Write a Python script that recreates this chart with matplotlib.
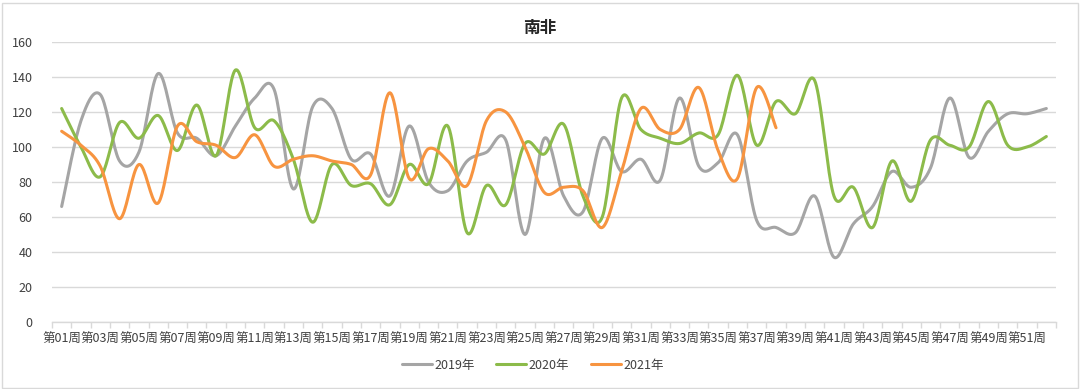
import numpy as np
import matplotlib
matplotlib.use("Agg")
import matplotlib.pyplot as plt
from matplotlib.patches import Rectangle

plt.rcParams['font.family'] = ['Noto Sans CJK SC', 'DejaVu Sans']

weeks = [f"第{i:02d}周" for i in range(1, 53)]

s2019 = [66, 115, 130, 92, 97, 142, 108, 105, 95, 112, 128, 133, 76, 123, 122, 93, 96, 72,
         112, 80, 75, 92, 97, 104, 50, 105, 72, 63, 105, 86, 93, 81, 128, 89, 91, 107, 58,
         54, 51, 72, 37, 56, 66, 86, 77, 88, 128, 94, 109, 119, 119, 122]
s2020 = [122, 100, 83, 114, 105, 118, 98, 124, 95, 144, 111, 115, 93, 57, 90, 78, 79, 67,
         90, 79, 112, 51, 78, 67, 102, 96, 113, 72, 60, 128, 110, 105, 102, 108, 107, 141,
         101, 126, 119, 138, 72, 77, 54, 92, 69, 104, 101, 100, 126, 101, 100, 106]
s2021 = [109, 101, 89, 59, 90, 68, 112, 103, 101, 94, 107, 89, 93, 95, 92, 90, 84, 131,
         82, 99, 92, 78, 115, 120, 100, 74, 77, 75, 54, 86, 122, 110, 110, 134, 98, 82, 134, 111]

series = [("2019年", s2019, "#A5A5A5"), ("2020年", s2020, "#8CBB4A"), ("2021年", s2021, "#F79440")]


def smooth(xs, ys, n=20):
    xs = np.asarray(xs, float)
    ys = np.asarray(ys, float)
    P = np.column_stack([xs, ys])
    out = []
    m = len(P)
    for i in range(m - 1):
        p0 = P[i - 1] if i > 0 else P[i]
        p1 = P[i]
        p2 = P[i + 1]
        p3 = P[i + 2] if i + 2 < m else P[i + 1]
        b1 = p1 + (p2 - p0) / 6.0
        b2 = p2 - (p3 - p1) / 6.0
        t = np.linspace(0, 1, n, endpoint=(i == m - 2))[:, None]
        seg = ((1 - t) ** 3) * p1 + 3 * ((1 - t) ** 2) * t * b1 + 3 * (1 - t) * t ** 2 * b2 + t ** 3 * p2
        out.append(seg)
    out = np.vstack(out)
    return out[:, 0], out[:, 1]


fig = plt.figure(figsize=(10.8, 3.89), dpi=100)
ax = fig.add_axes([52 / 1080, 1 - 322 / 389, (1056 - 52) / 1080, (322 - 42) / 389])

for name, vals, col in series:
    x = np.arange(1, len(vals) + 1)
    sx, sy = smooth(x, vals)
    ax.plot(sx, sy, color=col, lw=2.2, label=name, solid_capstyle='round', solid_joinstyle='round')

ax.set_xlim(0.5, 52.5)
ax.set_ylim(0, 160)
ax.set_yticks(np.arange(0, 161, 20))
ax.grid(axis='y', color='#D9D9D9', lw=1)
ax.set_axisbelow(True)
for sp in ['top', 'right', 'left']:
    ax.spines[sp].set_visible(False)
ax.spines['bottom'].set_color('#D9D9D9')
ax.spines['bottom'].set_linewidth(1)

ax.set_xticks(np.arange(1, 53, 2))
ax.set_xticklabels(weeks[::2])
ax.set_xticks(np.arange(0.5, 53, 1), minor=True)
ax.tick_params(axis='x', which='major', length=0, pad=8, labelsize=9, labelcolor='#404040')
ax.tick_params(axis='x', which='minor', length=4, color='#D9D9D9', width=1)
ax.tick_params(axis='y', length=0, pad=14, labelsize=9, labelcolor='#404040')

fig.text(540 / 1080, 1 - 28 / 389, "南非", ha='center', va='center', fontsize=12, fontweight='bold', color='#262626')

leg = fig.legend(loc='center', bbox_to_anchor=(533 / 1080, 1 - 365 / 389), ncol=3, frameon=False,
                 fontsize=9, handlelength=2.4, columnspacing=1.7, handletextpad=0.2)
for t in leg.get_texts():
    t.set_color('#404040')

fig.patches.append(Rectangle((1.5 / 1080, 1.5 / 389), 1 - 4 / 1080, 1 - 4 / 389, transform=fig.transFigure,
                             fill=False, edgecolor='#D9D9D9', lw=1))

fig.savefig("out.png", dpi=100)
